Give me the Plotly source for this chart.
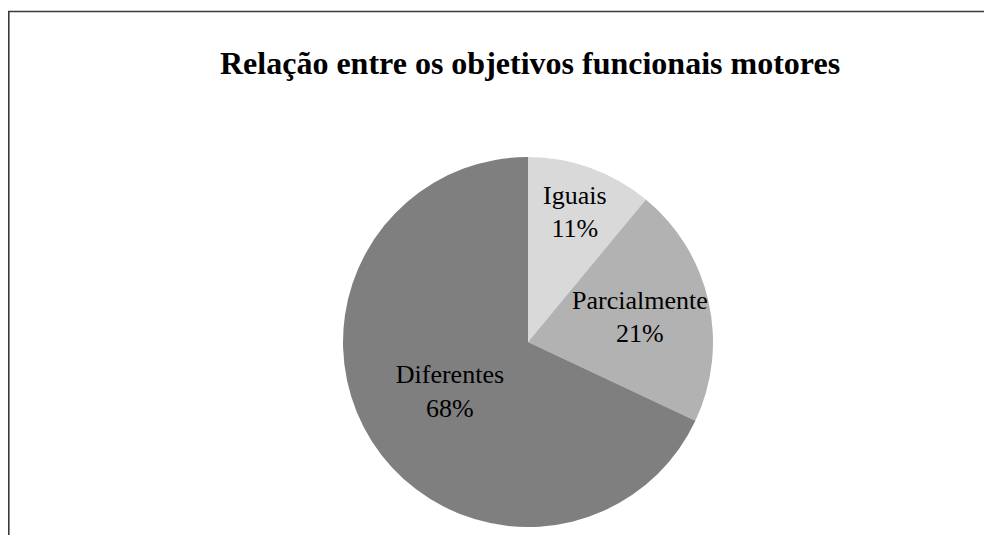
import plotly.graph_objects as go

categories = ["Iguais", "Parcialmente", "Diferentes"]
values = [11, 21, 68]
colors = ["#d9d9d9", "#b2b2b2", "#7f7f7f"]
title_text = "Relação entre os objetivos funcionais motores"

W, H = 992, 535
OFF = 8  # page body margin
cx, cy, r = 528 - OFF, 342 - OFF, 185
FONT = "Liberation Serif, Times New Roman, serif"

fig = go.Figure(go.Pie(
    labels=categories,
    values=values,
    sort=False,
    direction="clockwise",
    rotation=0,
    marker=dict(colors=colors, line=dict(width=0)),
    texttemplate="%{label}<br>%{percent:.0%}",
    textposition="inside",
    insidetextorientation="horizontal",
    textfont=dict(family=FONT, size=26, color="black"),
    hoverinfo="label+percent",
    showlegend=False,
    domain=dict(x=[(cx - r) / W, (cx + r) / W], y=[1 - (cy + r) / H, 1 - (cy - r) / H]),
))

fig.update_layout(
    width=W, height=H,
    margin=dict(l=0, r=0, t=0, b=0),
    paper_bgcolor="white",
    plot_bgcolor="white",
    uniformtext=dict(minsize=26, mode="show"),
    shapes=[dict(
        type="rect", xref="paper", yref="paper",
        x0=0.8 / W, x1=1.05, y0=-0.05, y1=1 - 3.5 / H,
        line=dict(color="#3a3a3a", width=1.6), fillcolor="rgba(0,0,0,0)",
    )],
    annotations=[dict(
        text="<b>" + title_text + "</b>", xref="paper", yref="paper",
        x=(530 - OFF) / W, y=1 - (63 - OFF) / H, xanchor="center", yanchor="middle",
        showarrow=False, font=dict(family=FONT, size=32, color="black"),
    )],
)

fig.write_html("out.html")
